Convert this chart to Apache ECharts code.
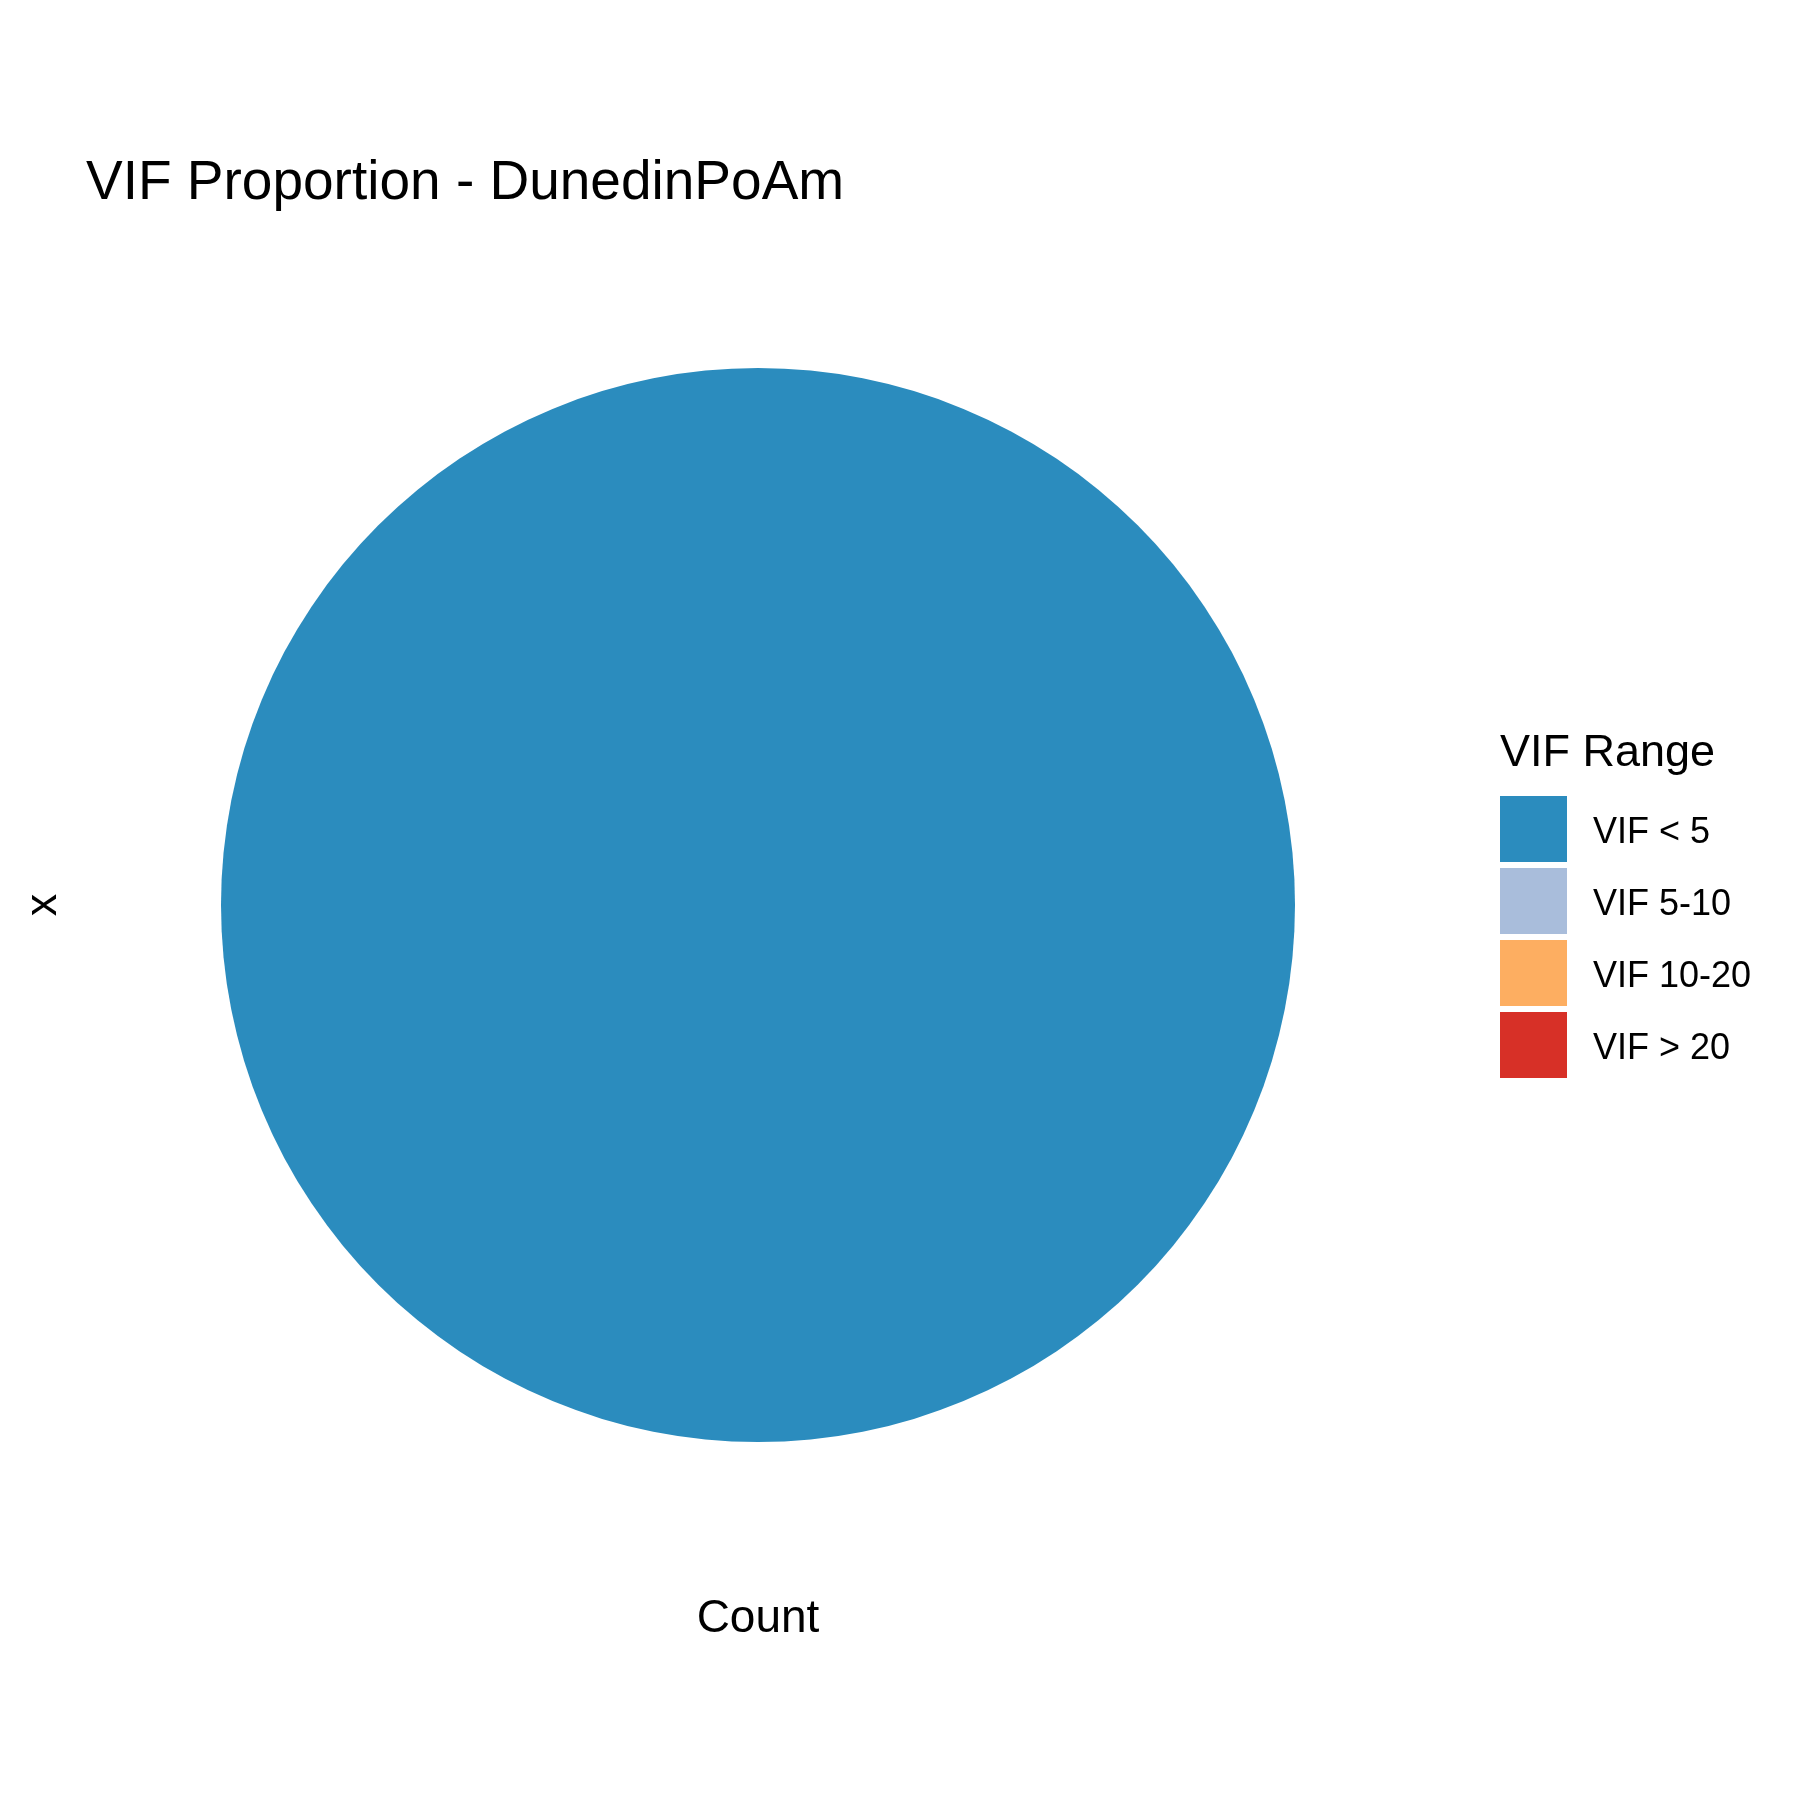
<!DOCTYPE html>
<html>
<head>
<meta charset="utf-8">
<script src="https://cdn.jsdelivr.net/npm/echarts@6/dist/echarts.min.js"></script>
<style>html,body{margin:0;padding:0;background:#fff}#c{width:1800px;height:1800px}</style>
</head>
<body>
<div id="c"></div>
<script>
const categories = ['VIF < 5', 'VIF 5-10', 'VIF 10-20', 'VIF > 20'];
const counts = [1, 0, 0, 0];
const colors = ['#2B8CBE', '#A9BDDB', '#FDAE61', '#D73027'];
const titleText = 'VIF Proportion - DunedinPoAm';
const legendTitle = 'VIF Range';
const xAxisTitle = 'Count';
const yAxisTitle = 'x';

const FONT = '"Liberation Sans", Arial, Helvetica, sans-serif';
const chart = echarts.init(document.getElementById('c'), null, {renderer: 'canvas'});
chart.setOption({
  backgroundColor: '#ffffff',
  animation: false,
  color: colors,
  legend: {
    data: categories,
    orient: 'vertical',
    left: 1500,
    top: 796,
    padding: 0,
    itemWidth: 67,
    itemHeight: 66,
    itemGap: 6,
    icon: 'rect',
    selectedMode: false,
    itemStyle: {borderWidth: 0},
    formatter: name => '{a|' + name + '}',
    textStyle: {
      fontFamily: FONT, fontSize: 36, color: '#000', padding: [0, 0, 0, 21],
      rich: {a: {fontFamily: FONT, fontSize: 36, color: '#000', padding: [8, 0, 0, 0]}}
    }
  },
  graphic: [
    {type: 'text', x: 86, y: 184, style: {text: titleText, fontFamily: FONT, fontSize: 55, fill: '#000', align: 'left', verticalAlign: 'middle'}},
    {type: 'text', x: 1500, y: 754, style: {text: legendTitle, fontFamily: FONT, fontSize: 45, fill: '#000', align: 'left', verticalAlign: 'middle'}},
    {type: 'text', x: 758, y: 1619, style: {text: xAxisTitle, fontFamily: FONT, fontSize: 46, fill: '#000', align: 'center', verticalAlign: 'middle'}},
    {type: 'text', x: 44, y: 905, rotation: Math.PI / 2, style: {text: yAxisTitle, fontFamily: FONT, fontSize: 45, fill: '#000', align: 'center', verticalAlign: 'middle'}}
  ],
  series: [{
    type: 'pie',
    center: [758, 905],
    radius: [0, 537],
    startAngle: 90,
    clockwise: true,
    label: {show: false},
    labelLine: {show: false},
    emphasis: {disabled: true},
    itemStyle: {borderWidth: 0},
    data: categories.map((c, i) => ({name: c, value: counts[i], itemStyle: {color: colors[i]}}))
  }]
});
</script>
</body>
</html>
